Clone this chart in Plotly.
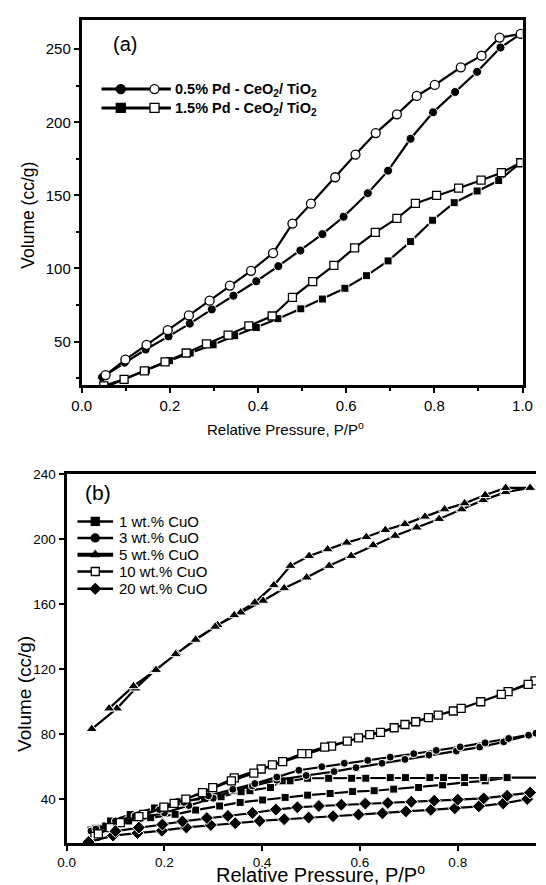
import plotly.graph_objects as go

# ---------------- Panel (a) data ----------------
a05_ads_x = [0.046, 0.097, 0.145, 0.197, 0.245, 0.295, 0.344, 0.396, 0.446, 0.496, 0.546, 0.594, 0.649, 0.695, 0.746, 0.797, 0.847, 0.897, 0.950, 0.996]
a05_ads_y = [25.6, 35.6, 44.6, 53.6, 62.3, 72.0, 81.4, 91.3, 101.6, 112.3, 123.5, 135.4, 151.5, 166.9, 188.7, 206.8, 220.7, 234.5, 251.1, 260.4]
a05_des_x = [0.996, 0.948, 0.907, 0.860, 0.801, 0.760, 0.715, 0.667, 0.621, 0.575, 0.520, 0.478, 0.434, 0.384, 0.336, 0.290, 0.243, 0.195, 0.147, 0.099, 0.054]
a05_des_y = [260.4, 257.9, 245.5, 237.6, 225.5, 218.0, 205.4, 192.6, 177.9, 162.4, 144.3, 130.7, 110.5, 98.4, 88.3, 78.0, 67.9, 57.8, 47.8, 37.7, 27.1]

a15_ads_x = [0.050, 0.097, 0.147, 0.199, 0.246, 0.298, 0.347, 0.396, 0.445, 0.497, 0.546, 0.597, 0.646, 0.695, 0.746, 0.796, 0.845, 0.897, 0.946, 0.996]
a15_ads_y = [18.5, 24.5, 30.5, 37.0, 42.2, 47.8, 54.0, 59.6, 65.7, 72.4, 79.1, 86.5, 95.1, 105.2, 118.4, 133.0, 145.0, 153.0, 160.1, 172.3]
a15_des_x = [0.996, 0.952, 0.906, 0.855, 0.805, 0.757, 0.715, 0.666, 0.619, 0.572, 0.524, 0.478, 0.432, 0.379, 0.332, 0.283, 0.237, 0.189, 0.142, 0.096, 0.050]
a15_des_y = [172.3, 165.5, 160.4, 155.0, 150.0, 144.5, 134.3, 124.7, 114.1, 102.2, 91.0, 80.3, 67.5, 60.8, 54.5, 48.4, 42.2, 36.1, 30.0, 24.2, 19.7]

a_labels = ["0.5% Pd - CeO<sub>2</sub>/ TiO<sub>2</sub>", "1.5% Pd - CeO<sub>2</sub>/ TiO<sub>2</sub>"]

# ---------------- Panel (b) data ----------------
b_labels = ["1 wt.% CuO", "3 wt.% CuO", "5 wt.% CuO", "10 wt.% CuO", "20 wt.% CuO"]

b1_ads_x = [0.050, 0.080, 0.127, 0.172, 0.222, 0.264, 0.313, 0.355, 0.401, 0.447, 0.493, 0.539, 0.585, 0.629, 0.669, 0.720, 0.769, 0.814, 0.856, 0.901]
b1_ads_y = [20.9, 23.4, 26.5, 28.5, 30.6, 33.2, 35.7, 37.9, 39.4, 41.0, 42.4, 43.4, 44.6, 45.1, 46.1, 47.1, 48.7, 50.2, 51.2, 53.2]
b1_des_x = [0.990, 0.853, 0.814, 0.771, 0.743, 0.693, 0.662, 0.612, 0.583, 0.536, 0.493, 0.457, 0.441, 0.417, 0.375, 0.357, 0.316, 0.282, 0.230, 0.180, 0.130, 0.090, 0.060]
b1_des_y = [53.2, 53.2, 53.2, 53.2, 53.2, 53.2, 53.2, 52.8, 52.8, 52.8, 52.8, 51.2, 51.2, 47.1, 45.1, 44.5, 41.4, 40.4, 38.3, 34.5, 30.5, 26.5, 22.0]

b3_ads_x = [0.050, 0.100, 0.150, 0.200, 0.250, 0.300, 0.340, 0.380, 0.430, 0.490, 0.547, 0.592, 0.645, 0.692, 0.741, 0.797, 0.845, 0.894, 0.945]
b3_ads_y = [20.3, 24.5, 28.0, 31.5, 36.0, 40.5, 45.1, 48.1, 51.6, 54.5, 56.9, 59.3, 62.0, 64.4, 67.1, 69.5, 72.0, 75.2, 79.3]
b3_des_x = [0.960, 0.904, 0.856, 0.805, 0.756, 0.710, 0.662, 0.616, 0.568, 0.522, 0.475, 0.430, 0.385, 0.340, 0.290, 0.240, 0.190, 0.140, 0.100, 0.060]
b3_des_y = [80.5, 77.3, 74.6, 72.1, 69.9, 67.9, 65.8, 63.8, 62.0, 59.9, 57.7, 53.5, 49.5, 46.0, 42.0, 38.0, 33.5, 29.5, 26.5, 21.5]

b5_ads_x = [0.0515, 0.103, 0.141, 0.179, 0.225, 0.264, 0.309, 0.356, 0.402, 0.445, 0.491, 0.537, 0.582, 0.627, 0.672, 0.716, 0.762, 0.808, 0.852, 0.898, 0.948]
b5_ads_y = [83.1, 95.8, 108.1, 118.8, 129.6, 138.5, 147.1, 154.9, 162.1, 169.8, 176.4, 183.6, 189.7, 196.3, 202.1, 207.2, 212.5, 218.4, 224.1, 229.0, 231.6]
b5_des_x = [0.948, 0.898, 0.856, 0.814, 0.773, 0.733, 0.692, 0.652, 0.613, 0.573, 0.534, 0.496, 0.458, 0.424, 0.385, 0.343, 0.304, 0.264, 0.223, 0.183, 0.137, 0.087]
b5_des_y = [231.6, 231.6, 227.2, 222.1, 218.4, 213.9, 209.3, 205.7, 201.4, 197.9, 193.8, 189.7, 183.6, 171.7, 161.0, 153.2, 146.1, 138.1, 129.2, 119.5, 109.5, 95.8]

b10_ads_x = [0.058, 0.110, 0.158, 0.199, 0.244, 0.299, 0.343, 0.398, 0.442, 0.493, 0.542, 0.597, 0.642, 0.692, 0.740, 0.791, 0.847, 0.903, 0.958]
b10_ads_y = [17.0, 25.5, 30.5, 35.0, 40.0, 47.0, 53.0, 58.5, 63.0, 67.9, 72.6, 77.6, 81.0, 85.9, 90.1, 94.2, 99.9, 106.1, 112.8]
b10_des_x = [0.944, 0.889, 0.807, 0.760, 0.714, 0.670, 0.620, 0.574, 0.528, 0.481, 0.421, 0.383, 0.337, 0.278, 0.220, 0.148, 0.089, 0.065]
b10_des_y = [110.6, 104.4, 95.8, 91.7, 87.6, 83.9, 79.7, 75.6, 72.0, 67.9, 61.0, 55.9, 51.2, 43.9, 37.3, 29.1, 22.4, 18.5]

b20_ads_x = [0.045, 0.095, 0.145, 0.195, 0.245, 0.295, 0.345, 0.395, 0.445, 0.495, 0.545, 0.597, 0.646, 0.694, 0.745, 0.794, 0.843, 0.893, 0.942]
b20_ads_y = [13.5, 17.5, 19.0, 20.5, 22.5, 24.0, 25.1, 26.5, 27.6, 28.6, 29.4, 30.4, 31.2, 32.4, 33.3, 34.3, 35.5, 37.3, 40.0]
b20_des_x = [0.948, 0.901, 0.853, 0.800, 0.752, 0.705, 0.657, 0.611, 0.562, 0.516, 0.472, 0.428, 0.380, 0.330, 0.287, 0.237, 0.196, 0.148, 0.100]
b20_des_y = [44.0, 42.0, 40.4, 39.6, 39.0, 38.3, 37.6, 37.2, 36.5, 35.7, 34.9, 33.5, 31.4, 29.6, 28.3, 26.2, 24.3, 22.4, 20.2]

# ---------------- figure ----------------
W, H = 546, 885
FONT = "Liberation Sans, Arial, sans-serif"
fig = go.Figure()


def series(x, y, symbol, filled, size, xa, ya, lw=2.0):
    fig.add_trace(go.Scatter(
        x=x, y=y, mode="lines+markers", xaxis=xa, yaxis=ya, showlegend=False,
        line=dict(color="black", width=lw),
        marker=dict(symbol=symbol, size=size,
                    color="black" if filled else "white",
                    line=dict(color="white" if filled else "black", width=1.0 if filled else 1.3))))


# panel (a)
series(a05_ads_x, a05_ads_y, "circle", True, 9, "x", "y", lw=2.2)
series(a05_des_x, a05_des_y, "circle", False, 9, "x", "y", lw=2.2)
series(a15_ads_x, a15_ads_y, "square", True, 8, "x", "y", lw=2.2)
series(a15_des_x, a15_des_y, "square", False, 8, "x", "y", lw=2.2)

# panel (b): each sample is an adsorption/desorption loop
b_sets = [
    (b1_ads_x + b1_des_x, b1_ads_y + b1_des_y, "square", True, 8),
    (b3_ads_x + b3_des_x, b3_ads_y + b3_des_y, "circle", True, 8),
    (b5_ads_x + b5_des_x, b5_ads_y + b5_des_y, "triangle-up", True, 10),
    (b10_ads_x + b10_des_x, b10_ads_y + b10_des_y, "square", False, 8),
    (b20_ads_x + b20_des_x, b20_ads_y + b20_des_y, "diamond", True, 10),
]
for x, y, sym, filled, sz in b_sets:
    series(x, y, sym, filled, sz, "x2", "y2", lw=2.2)

# ---- legends drawn on a pixel-space overlay axis ----
def px_line(x0, x1, y, lw):
    fig.add_trace(go.Scatter(x=[x0, x1], y=[y, y], mode="lines", xaxis="x3", yaxis="y3",
                             showlegend=False, hoverinfo="skip",
                             line=dict(color="black", width=lw)))


def px_marker(x, y, symbol, filled, size):
    fig.add_trace(go.Scatter(x=[x], y=[y], mode="markers", xaxis="x3", yaxis="y3",
                             showlegend=False, hoverinfo="skip",
                             marker=dict(symbol=symbol, size=size,
                                         color="black" if filled else "white",
                                         line=dict(color="black", width=1.3))))


ann = []
a_leg_rows = [82.7, 101.7]
a_leg_syms = ["circle", "square"]
for row, sym, lab in zip(a_leg_rows, a_leg_syms, a_labels):
    px_line(95, 167, row, 3)
    px_marker(115, row, sym, True, 9)
    px_marker(150, row, sym, False, 9)
    ann.append(dict(x=169 / W, y=1 - (row + 1) / H, xref="paper", yref="paper", text="<b>" + lab + "</b>",
                    showarrow=False, xanchor="left", yanchor="middle",
                    font=dict(family=FONT, size=14.5, color="black")))

b_leg_rows = [518.5, 535.2, 552, 569, 586.5]
b_leg_syms = [("square", True), ("circle", True), ("triangle-up", True), ("square", False), ("diamond", True)]
for i, (row, (sym, filled), lab) in enumerate(zip(b_leg_rows, b_leg_syms, b_labels)):
    px_line(70, 107, row, 4 if i == 2 else 2.5)
    px_marker(88.5, row, sym, filled, 8)
    ann.append(dict(x=111 / W, y=1 - row / H, xref="paper", yref="paper", text=lab,
                    showarrow=False, xanchor="left", yanchor="middle",
                    font=dict(family=FONT, size=15, color="black")))


def label(x, y, text, size, angle=0):
    return dict(x=x / W, y=1 - y / H, xref="paper", yref="paper", text=text, showarrow=False,
                xanchor="center", yanchor="middle", textangle=angle,
                font=dict(family=FONT, size=size, color="black"))


# panel labels and axis titles
ann += [
    label(119, 37, "(a)", 20),
    label(91, 489, "(b)", 21),
    label(19, 210, "Volume (cc/g)", 17.5, -90),
    label(286, 425, "Relative Pressure, P/P<sup>o</sup>", 15),
    label(15, 692, "Volume (cc/g)", 19, -90),
    label(322, 873, "Relative Pressure, P/P<sup>o</sup>", 20),
]

tickfont_a = dict(family=FONT, size=15, color="black")
tickfont_b = dict(family=FONT, size=13.5, color="black")
common = dict(showgrid=False, zeroline=False, showline=True, linecolor="black",
              ticks="outside", tickcolor="black", tickwidth=1.5)

fig.update_layout(
    width=W, height=H, margin=dict(l=0, r=0, t=0, b=0),
    paper_bgcolor="white", plot_bgcolor="rgba(0,0,0,0)",
    annotations=ann,
    xaxis=dict(domain=[74.5 / W, 532 / W], range=[0, 1.0], anchor="y", dtick=0.2, tick0=0,
               tickformat=".1f", ticklen=5, linewidth=3, mirror=True, tickfont=tickfont_a,
               minor=dict(dtick=0.1, tick0=0, ticks="outside", ticklen=3, tickcolor="black"), **common),
    yaxis=dict(domain=[1 - 381.5 / H, 1 - 13 / H], range=[20, 270], anchor="x", dtick=50, tick0=0,
               ticklen=5, linewidth=3, mirror=True, tickfont=tickfont_a,
               minor=dict(dtick=25, tick0=0, ticks="outside", ticklen=3, tickcolor="black"), **common),
    xaxis2=dict(domain=[58.7 / W, 1.0], range=[0, 0.96], anchor="y2", dtick=0.2, tick0=0,
                tickformat=".1f", ticklen=5, linewidth=3, mirror=True, tickfont=tickfont_b, **common),
    yaxis2=dict(domain=[1 - 842.7 / H, 1 - 471 / H], range=[12.9, 240], anchor="x2", dtick=40, tick0=0,
                ticklen=5, linewidth=3, mirror=False, tickfont=tickfont_b, **common),
    xaxis3=dict(domain=[0, 1], range=[0, W], visible=False, anchor="y3", fixedrange=True),
    yaxis3=dict(domain=[0, 1], range=[H, 0], visible=False, anchor="x3", fixedrange=True),
)

fig.write_html("out.html", config={"displayModeBar": False},
               post_script="document.body.style.margin='0px';document.body.style.overflow='hidden';")
